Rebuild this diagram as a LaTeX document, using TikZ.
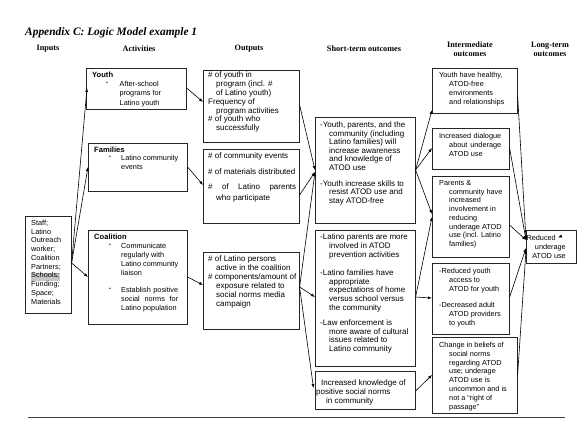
\documentclass[tikz,border=0pt]{standalone}
\usepackage{fontspec}
\setmainfont{Liberation Serif}
\setsansfont{Liberation Sans}
\usetikzlibrary{arrows.meta,calc}
\begin{document}
\begin{tikzpicture}[x=1pt,y=-1pt,
 box/.style={draw=black!85,line width=0.6pt,inner sep=0pt,anchor=north west,rectangle},
 txt/.style={inner sep=0pt,anchor=north west,align=left,font=\sffamily\fontsize{7.2}{8.8}\selectfont},
 otxt/.style={txt,font=\sffamily\fontsize{8}{8.8}\selectfont},
 btxt/.style={txt,font=\sffamily\bfseries\fontsize{7.6}{9}\selectfont},
 bul/.style={inner sep=0pt,anchor=north west,font=\sffamily\fontsize{5}{6}\selectfont},
 hdr/.style={font=\bfseries\fontsize{8.2}{9}\selectfont,align=center,inner sep=0pt},
 arr/.style={line width=0.6pt,-{Latex[length=4pt,width=3pt]}},
 ln/.style={line width=0.6pt}]
\fill[white] (0,0) rectangle (587,441);
\useasboundingbox (0,0) rectangle (587,441);
\newcommand\ind{\hspace*{9pt}}
% title and headers
\node[anchor=west,inner sep=0pt,font=\bfseries\itshape\fontsize{11.4}{13}\selectfont] (title) at (25,33) {Appendix C: Logic Model example 1};
\node[hdr] (hIn) at (48,49) {Inputs};
\node[hdr] (hAct) at (139,49) {Activities};
\node[hdr] (hOut) at (249,49) {Outputs};
\node[hdr] (hSt) at (364,49) {Short-term outcomes};
\node[hdr] (hIm) at (470,49.5) {Intermediate\\outcomes};
\node[hdr] (hLt) at (550,49.5) {Long-term\\outcomes};
% boxes
\node[box,minimum width=46pt,minimum height=97pt] (inp) at (25,216) {};
\node[box,minimum width=100pt,minimum height=41pt] (youth) at (86,68) {};
\node[box,minimum width=99pt,minimum height=48pt] (fam) at (88,143) {};
\node[box,minimum width=99pt,minimum height=94pt] (coal) at (88,230) {};
\node[box,minimum width=96pt,minimum height=72pt] (out1) at (203,70) {};
\node[box,minimum width=96pt,minimum height=74pt] (out2) at (203,149) {};
\node[box,minimum width=96pt,minimum height=77pt] (out3) at (203,252) {};
\node[box,minimum width=100pt,minimum height=106pt] (st1) at (315,117) {};
\node[box,minimum width=100pt,minimum height=136pt] (st2) at (315,230) {};
\node[box,minimum width=100pt,minimum height=38pt] (st3) at (315,371) {};
\node[box,minimum width=85pt,minimum height=45pt] (im1) at (432,68) {};
\node[box,minimum width=77pt,minimum height=41pt] (im2) at (432,128) {};
\node[box,minimum width=77pt,minimum height=81pt] (im3) at (432,176) {};
\node[box,minimum width=77pt,minimum height=71pt] (im4) at (432,263) {};
\node[box,minimum width=85pt,minimum height=76pt] (im5) at (432,337) {};
\node[box,minimum width=50pt,minimum height=33pt] (lt) at (526,230) {};
% inputs text
\fill[black!22] (30.5,272.5) rectangle (59.5,280.5);
\node[txt,font=\sffamily\fontsize{7.3}{8.75}\selectfont] (inpT) at (31,220) {Staff;\\Latino\\Outreach\\worker;\\Coalition\\Partners;\\Schools;\\Funding;\\Space;\\Materials};
% activities
\node[btxt] (youthH) at (92,72) {Youth};
\node[bul] (youthB) at (106,82) {\textbullet};
\node[txt,font=\sffamily\fontsize{7.3}{9.5}\selectfont] (youthT) at (119.5,81) {After-school\\programs for\\Latino youth};
\node[btxt] (famH) at (94,147) {Families};
\node[bul] (famB) at (109,156) {\textbullet};
\node[txt,font=\sffamily\fontsize{7.3}{9}\selectfont] (famT) at (121,155) {Latino community\\events};
\node[btxt] (coalH) at (94,234) {Coalition};
\node[bul] (coalB1) at (109,244) {\textbullet};
\node[txt,font=\sffamily\fontsize{7.3}{9}\selectfont] (coalT1) at (121,243) {Communicate\\regularly with\\Latino community\\liaison};
\node[bul] (coalB2) at (109,288) {\textbullet};
\node[txt,font=\sffamily\fontsize{7.3}{9}\selectfont] (coalT2) at (121,287) {\makebox[57pt][s]{Establish positive}\\\makebox[57pt][s]{social norms for}\\Latino population};
% outputs
\node[otxt] (out1T) at (208,72) {\# of youth in\\\hspace*{8pt}program (incl. \#\\\hspace*{8pt}of Latino youth)\\Frequency of\\\hspace*{8pt}program activities\\\# of youth who\\\hspace*{8pt}successfully};
\node[otxt] (out2a) at (208,152.5) {\# of community events};
\node[otxt] (out2b) at (208,168.5) {\# of materials distributed};
\node[otxt,font=\sffamily\fontsize{8}{11}\selectfont] (out2c) at (208,183.5) {\makebox[88pt][s]{\# of Latino parents}\\\hspace*{8pt}who participate};
\node[otxt,font=\sffamily\fontsize{8}{9}\selectfont] (out3T) at (208,255.5) {\# of Latino persons\\\hspace*{8pt}active in the coalition\\\# components/amount of\\\hspace*{8pt}exposure related to\\\hspace*{8pt}social norms media\\\hspace*{8pt}campaign};
% short-term
\node[otxt,font=\sffamily\fontsize{8}{8.5}\selectfont] (st1T) at (320,122) {-Youth, parents, and the\\\ind community (including\\\ind Latino families) will\\\ind increase awareness\\\ind and knowledge of\\\ind ATOD use\\[7.5pt]-Youth increase skills to\\\ind resist ATOD use and\\\ind stay ATOD-free};
\node[otxt] (st2T) at (320,234) {-Latino parents are more\\\ind involved in ATOD\\\ind prevention activities\\[9pt]-Latino families have\\\ind appropriate\\\ind expectations of home\\\ind versus school versus\\\ind the community\\[6pt]-Law enforcement is\\\ind more aware of cultural\\\ind issues related to\\\ind Latino community};
\node[otxt,font=\sffamily\fontsize{8}{8.7}\selectfont] (st3T) at (316,380) {\hspace*{5pt}Increased knowledge of\\positive social norms\\\hspace*{10pt}in community};
% intermediate
\node[txt,font=\sffamily\fontsize{7.3}{9}\selectfont] (im1T) at (439,72) {Youth have healthy,\\\hspace*{10pt}ATOD-free\\\hspace*{10pt}environments\\\hspace*{10pt}and relationships};
\node[txt,font=\sffamily\fontsize{7.3}{9}\selectfont] (im2T) at (439,133) {\makebox[62pt][s]{Increased dialogue}\\\hspace*{10pt}\makebox[52pt][s]{about underage}\\\hspace*{10pt}ATOD use};
\node[txt,font=\sffamily\fontsize{7.3}{8.75}\selectfont] (im3T) at (439,180) {Parents \&\\\hspace*{10pt}community have\\\hspace*{10pt}increased\\\hspace*{10pt}involvement in\\\hspace*{10pt}reducing\\\hspace*{10pt}underage ATOD\\\hspace*{10pt}use (incl. Latino\\\hspace*{10pt}families)};
\node[txt,font=\sffamily\fontsize{7.3}{9}\selectfont] (im4T) at (439,268) {-Reduced youth\\\hspace*{10pt}access to\\\hspace*{10pt}ATOD for youth\\[7pt]-Decreased adult\\\hspace*{10pt}ATOD providers\\\hspace*{10pt}to youth};
\node[txt,font=\sffamily\fontsize{7.3}{8.8}\selectfont] (im5T) at (439,342) {Change in beliefs of\\\hspace*{10pt}social norms\\\hspace*{10pt}regarding ATOD\\\hspace*{10pt}use; underage\\\hspace*{10pt}ATOD use is\\\hspace*{10pt}uncommon and is\\\hspace*{10pt}not a “right of\\\hspace*{10pt}passage”};
% long-term
\node[txt,anchor=north east,align=right,font=\sffamily\fontsize{7.3}{9}\selectfont] (ltT) at (566,235) {Reduced\hspace*{10pt}\\underage\\ATOD use};
\draw[arr] ($(lt.north west)+(36,6)$) -- ($(lt.north west)+(32,7.5)$);
% connectors
\draw[arr] ($(inp.north east)+(0,47)$) -- ($(youth.north west)+(1,20)$);
\draw[arr] ($(inp.north east)+(0,47)$) -- ($(fam.north west)+(0,24)$);
\draw[arr] ($(inp.north east)+(0,47)$) -- ($(coal.north west)+(0,47)$);
\draw[arr] ($(youth.north east)+(0,20)$) -- ($(out1.north west)+(0,32)$);
\draw[arr] ($(fam.north east)+(0,24)$) -- ($(out2.north west)+(0,36)$);
\draw[arr] ($(coal.north east)+(0,47)$) -- ($(out3.north west)+(0,33)$);
\draw[arr] ($(out1.north east)+(0,35)$) -- ($(st1.north west)+(0,53)$);
\draw[arr] ($(out2.north east)+(0,46)$) -- ($(st1.north west)+(0,55)$);
\draw[arr] ($(out3.north east)+(0,35)$) -- ($(st1.north west)+(0,55)$);
\draw[arr] ($(out3.north east)+(0,35)$) -- ($(st2.north west)+(0,67)$);
\draw[arr] ($(out3.north east)+(0,35)$) -- ($(st3.north west)+(-1.5,17)$);
\draw[arr] ($(st1.north east)+(0,53)$) -- ($(im1.north west)+(0,42)$);
\draw[arr] ($(st1.north east)+(0,53)$) -- ($(im2.north west)+(0,20)$);
\draw[arr] ($(st1.north east)+(0,53)$) -- ($(im3.north west)+(0,38)$);
\draw[arr] ($(st2.north east)+(0,67)$) -- ($(im3.north west)+(0,41)$);
\draw[arr] ($(st2.north east)+(0,67)$) -- ($(im4.north west)+(0,35)$);
\draw[arr] ($(st3.north east)+(0,20)$) -- ($(im5.north west)+(0,38)$);
\draw[arr] ($(im1.north east)+(0,27)$) -- ($(lt.north west)+(0,10)$);
\draw[arr] ($(im2.north east)+(0,20)$) -- ($(lt.north west)+(0,10)$);
\draw[arr] ($(im3.north east)+(0,49)$) -- ($(lt.north west)+(0,10)$);
\draw[arr] ($(im4.north east)+(0,34)$) -- ($(lt.north west)+(0,18)$);
\draw[arr] ($(im5.north east)+(0,38)$) -- ($(lt.north west)+(0,20)$);
% bottom rule
\draw[ln,black!75] (28,417) -- (565,417);
\end{tikzpicture}
\end{document}
